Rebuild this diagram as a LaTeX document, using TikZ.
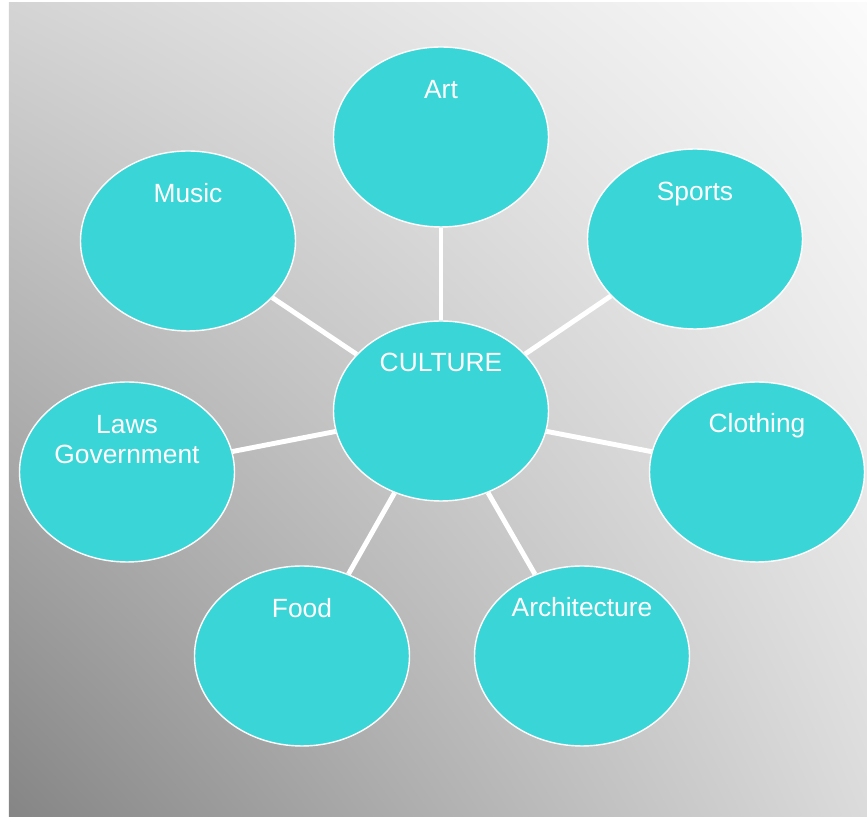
\documentclass[tikz,border=0pt]{standalone}
\usepackage{fontspec}
\setmainfont{Liberation Sans}
\usetikzlibrary{shapes.geometric,shadings}
\definecolor{bubblefill}{HTML}{3AD5D7}
\definecolor{bgdark}{HTML}{858585}
\definecolor{bgtopleft}{HTML}{D4D4D4}
\definecolor{bgbotright}{HTML}{DBDBDB}
\definecolor{bglight}{HTML}{FBFBFB}
\tikzset{
  bubble/.style={ellipse, draw=white, line width=0.8pt, fill=bubblefill,
    minimum width=4.3cm, minimum height=3.6cm, inner sep=0pt},
  bubbletext/.style={text=white, font=\fontsize{15}{17.4}\selectfont, inner sep=0pt, align=center},
  spoke/.style={draw=white, line width=2.8pt}
}

\begin{document}
\begin{tikzpicture}
\useasboundingbox (0,0) rectangle (17.34,16.34);
\shade[lower left=bgdark, upper right=bglight, upper left=bgtopleft, lower right=bgbotright]
  (0.18,0) rectangle (17.34,16.28);

\node[bubble] (culture) at (8.82,8.12)  {};
\node[bubble] (art)     at (8.82,13.60) {};
\node[bubble] (music)   at (3.76,11.52) {};
\node[bubble] (sports)  at (13.90,11.56) {};
\node[bubble] (laws)    at (2.54,6.90)  {};
\node[bubble] (cloth)   at (15.14,6.90) {};
\node[bubble] (food)    at (6.04,3.22)  {};
\node[bubble] (arch)    at (11.64,3.22) {};

\node[bubbletext, anchor=base] (culturename) at ([yshift=0.78cm]culture.center) {CULTURE};
\node[bubbletext, anchor=base] (artname)     at ([yshift=0.76cm]art.center)     {Art};
\node[bubbletext, anchor=base] (musicname)   at ([yshift=0.77cm]music.center)   {Music};
\node[bubbletext, anchor=base] (sportsname)  at ([yshift=0.76cm]sports.center)  {Sports};
\node[bubbletext] (lawsname) at ([yshift=0.65cm]laws.center) {Laws\\Government};
\node[bubbletext, anchor=base] (clothname)   at ([yshift=0.78cm]cloth.center)   {Clothing};
\node[bubbletext, anchor=base] (foodname)    at ([yshift=0.77cm]food.center)    {Food};
\node[bubbletext, anchor=base] (archname)    at ([yshift=0.78cm]arch.center)    {Architecture};

\foreach \j in {art,music,sports,laws,cloth,food,arch}
{
  \draw[spoke] (culture) to (\j);
}
\end{tikzpicture}
\end{document}
